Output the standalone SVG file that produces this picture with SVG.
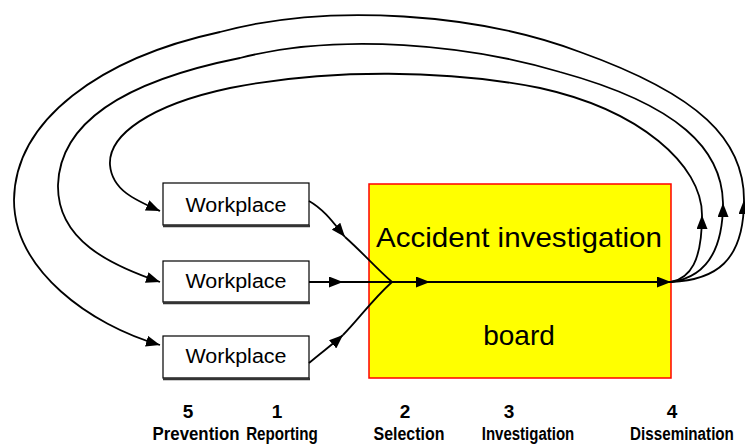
<svg xmlns="http://www.w3.org/2000/svg" width="745" height="448" viewBox="0 0 745 448">
<style>
.box{fill:#fff;stroke:#000;stroke-width:1.2}
.shadow{stroke:#333;stroke-width:2.5}
.wp{font-family:"Liberation Sans",Arial,sans-serif;font-size:20px;fill:#000;text-anchor:middle}
.big{font-family:"Liberation Sans",Arial,sans-serif;font-size:28px;fill:#000;text-anchor:middle}
.lbl{font-family:"Liberation Sans",Arial,sans-serif;font-weight:bold;font-size:19px;fill:#000;text-anchor:middle}
.ln{fill:none;stroke:#000;stroke-width:1.8}
</style>
<defs>
<marker id="ah" markerUnits="userSpaceOnUse" markerWidth="15" markerHeight="11" refX="14" refY="5.5" orient="auto">
<path d="M0,0 L14,5.5 L0,11 z" fill="#000"/>
</marker>
</defs>
<g id="board">
<rect x="369" y="184" width="302" height="194" fill="#ffff00" stroke="#ff0000" stroke-width="1.5"/>
<text class="big" x="519" y="247" textLength="286" lengthAdjust="spacingAndGlyphs">Accident investigation</text>
<text class="big" x="519" y="345">board</text>
</g>
<g id="workplace1">
<rect class="box" x="163" y="183" width="146" height="42"/>
<line class="shadow" x1="163" y1="226" x2="310" y2="226"/>
<text class="wp" x="236" y="212" textLength="101" lengthAdjust="spacingAndGlyphs">Workplace</text>
</g>
<g id="workplace2">
<rect class="box" x="163" y="261" width="146" height="41"/>
<line class="shadow" x1="163" y1="303" x2="310" y2="303"/>
<text class="wp" x="236" y="288" textLength="101" lengthAdjust="spacingAndGlyphs">Workplace</text>
</g>
<g id="workplace3">
<rect class="box" x="163" y="336" width="146" height="42"/>
<line class="shadow" x1="163" y1="379" x2="310" y2="379"/>
<text class="wp" x="236" y="363" textLength="101" lengthAdjust="spacingAndGlyphs">Workplace</text>
</g>
<g id="connectors">
<path class="ln" d="M309,201 C325,210 335,225 345,237" marker-end="url(#ah)"/>
<path class="ln" d="M345,237 C362,252 376,268 392,282"/>
<path class="ln" d="M309,363 C322,352 333,344 343,335" marker-end="url(#ah)"/>
<path class="ln" d="M343,335 C358,320 372,300 392,282"/>
<path class="ln" d="M309,282 L343,282" marker-end="url(#ah)" stroke-width="2.5"/>
<path class="ln" d="M343,282 L430,282" marker-end="url(#ah)"/>
<path class="ln" d="M430,282 L671,282" marker-end="url(#ah)"/>
<path class="ln" d="M671,282 C690,278 702,262 702,215" marker-end="url(#ah)"/>
<path class="ln" d="M702,215 C702,165 640,110 540,88 C450,70 330,68 230,88 C150,105 108,135 110,165 C112,190 135,200 160,211" marker-end="url(#ah)"/>
<path class="ln" d="M671,282 C700,278 723,258 723,203" marker-end="url(#ah)"/>
<path class="ln" d="M723,203 C722,150 680,105 560,72 C470,45 340,32 240,58 C130,80 60,120 58,185 C57,240 110,265 160,282" marker-end="url(#ah)"/>
<path class="ln" d="M671,282 C715,280 744,262 744,200" marker-end="url(#ah)"/>
<path class="ln" d="M744,200 C744,140 700,95 580,52 C480,14 330,2 220,32 C100,58 15,120 14,200 C14,270 90,325 160,345" marker-end="url(#ah)"/>
</g>
<g id="labels">
<text class="lbl" x="188" y="418">5</text>
<text class="lbl" x="277" y="418">1</text>
<text class="lbl" x="405" y="418">2</text>
<text class="lbl" x="509" y="418">3</text>
<text class="lbl" x="672" y="418">4</text>
<text class="lbl" transform="translate(196,440) scale(0.886,1)">Prevention</text>
<text class="lbl" transform="translate(282,440) scale(0.8,1)">Reporting</text>
<text class="lbl" transform="translate(409,440) scale(0.84,1)">Selection</text>
<text class="lbl" transform="translate(528,440) scale(0.79,1)">Investigation</text>
<text class="lbl" transform="translate(682,440) scale(0.8,1)">Dissemination</text>
</g>
</svg>
